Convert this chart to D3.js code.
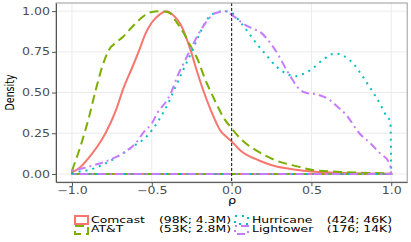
<!DOCTYPE html>
<html><head><meta charset="utf-8">
<script src="https://cdn.jsdelivr.net/npm/d3@7"></script>
<style>body{margin:0;background:#fff}svg{display:block}text{font-family:"DejaVu Sans",sans-serif}</style>
</head><body><div id="chart"></div>
<script>
// density curves, [rho, scaled density]
const comcast=[[-1,0.01],[-0.95,0.04],[-0.89,0.105],[-0.84,0.17],[-0.79,0.25],[-0.725,0.39],[-0.68,0.52],[-0.62,0.66],[-0.575,0.77],[-0.54,0.86],[-0.5,0.93],[-0.45,0.98],[-0.41,1],[-0.37,0.98],[-0.32,0.92],[-0.26,0.77],[-0.22,0.64],[-0.18,0.52],[-0.13,0.39],[-0.094,0.31],[-0.07,0.265],[-0.04,0.235],[0,0.2],[0.06,0.14],[0.12,0.105],[0.165,0.086],[0.27,0.049],[0.38,0.029],[0.52,0.013],[0.7,0.006],[0.85,0.003],[1,0.002]];
const att=[[-1,0.02],[-0.987,0.055],[-0.96,0.13],[-0.934,0.21],[-0.893,0.35],[-0.85,0.52],[-0.81,0.66],[-0.77,0.76],[-0.72,0.81],[-0.683,0.84],[-0.64,0.885],[-0.6,0.926],[-0.55,0.97],[-0.5,0.995],[-0.45,1],[-0.39,0.99],[-0.35,0.94],[-0.3,0.865],[-0.26,0.79],[-0.22,0.72],[-0.157,0.56],[-0.136,0.516],[-0.09,0.42],[-0.053,0.35],[0,0.28],[0.063,0.21],[0.167,0.137],[0.27,0.086],[0.417,0.045],[0.52,0.022],[0.66,0.014],[0.8,0.008],[1,0.003]];
const hurricane=[[-1,0],[-0.955,0.014],[-0.89,0.025],[-0.8,0.06],[-0.715,0.106],[-0.663,0.137],[-0.6,0.18],[-0.554,0.21],[-0.49,0.28],[-0.45,0.34],[-0.387,0.455],[-0.355,0.527],[-0.303,0.64],[-0.25,0.75],[-0.21,0.84],[-0.147,0.957],[-0.1,0.99],[-0.05,1],[-0.01,0.995],[0.052,0.936],[0.104,0.87],[0.157,0.8],[0.209,0.74],[0.27,0.67],[0.345,0.615],[0.397,0.6],[0.45,0.615],[0.497,0.64],[0.564,0.695],[0.648,0.74],[0.7,0.727],[0.769,0.67],[0.82,0.6],[0.867,0.53],[0.93,0.43],[0.97,0.356],[0.995,0.32],[1,0]];
const lightower=[[-1,0.02],[-0.93,0.035],[-0.86,0.055],[-0.79,0.076],[-0.683,0.127],[-0.6,0.19],[-0.548,0.26],[-0.5,0.31],[-0.46,0.383],[-0.418,0.434],[-0.376,0.506],[-0.345,0.588],[-0.29,0.7],[-0.24,0.8],[-0.157,0.936],[-0.105,0.987],[-0.03,1],[0,0.977],[0.03,0.957],[0.063,0.93],[0.125,0.895],[0.188,0.865],[0.23,0.82],[0.29,0.735],[0.345,0.637],[0.376,0.588],[0.407,0.54],[0.46,0.5],[0.543,0.486],[0.606,0.46],[0.658,0.418],[0.72,0.36],[0.8,0.25],[0.867,0.19],[0.93,0.127],[0.99,0.066],[1,0]];
const names=["Comcast","AT&T","Hurricane","Lightower"];
const counts=["(98K; 4.3M)","(53K; 2.8M)","(424; 46K)","(176; 14K)"];
const xTicks=[-1,-0.5,0,0.5,1], yTicks=[0,0.25,0.5,0.75,1];

(function(){
  const W=411,H=242,VS=0.77;
  const series=[comcast,att,hurricane,lightower];
  const colors=["#F8766D","#7CAE00","#00BFC4","#C77CFF"];
  const dashes=[null,"9,5","2,5","2,4,8,4"];
  const svg=d3.select("#chart").append("svg").attr("width",W).attr("height",H);
  const x=d3.scaleLinear().domain([-1.1,1.1]).range([56,407.2]);
  const y=d3.scaleLinear().domain([-0.05,1.05]).range([182.1,3]);
  const p={l:56,r:407.2,t:3,b:182.1};
  // grid
  svg.append("g").selectAll("line").data(yTicks).join("line")
    .attr("x1",p.l).attr("x2",p.r).attr("y1",d=>y(d)).attr("y2",d=>y(d)).attr("stroke","#ebebeb");
  svg.append("g").selectAll("line").data(xTicks).join("line")
    .attr("y1",p.t).attr("y2",p.b).attr("x1",d=>x(d)).attr("x2",d=>x(d)).attr("stroke","#ebebeb");
  // curves, closed down to zero like a density outline
  const area=d3.area().x(d=>x(d[0])).y0(y(0)).y1(d=>y(d[1])).curve(d3.curveMonotoneX);
  series.forEach((s,i)=>{
    svg.append("path").attr("d",area(s)).attr("fill","none").attr("stroke",colors[i])
      .attr("stroke-width",2).attr("stroke-dasharray",dashes[i]);
  });
  svg.append("line").attr("x1",x(0)).attr("x2",x(0)).attr("y1",p.t).attr("y2",p.b)
    .attr("stroke","#333").attr("stroke-width",1.2).attr("stroke-dasharray","3,2");
  svg.append("rect").attr("x",p.l).attr("y",p.t).attr("width",p.r-p.l).attr("height",p.b-p.t)
    .attr("fill","none").attr("stroke","#9a9a9a");
  // axes
  const ax=svg.append("g").attr("transform",`translate(0,${p.b})`)
    .call(d3.axisBottom(x).tickValues(xTicks).tickFormat(d3.format(".1f")).tickSize(4).tickSizeOuter(0).tickPadding(2));
  const ay=svg.append("g").attr("transform",`translate(${p.l},0)`)
    .call(d3.axisLeft(y).tickValues(yTicks).tickFormat(d3.format(".2f")).tickSize(4).tickSizeOuter(0).tickPadding(2));
  [ax,ay].forEach(a=>{
    a.select(".domain").attr("stroke","#555");
    a.selectAll(".tick line").attr("stroke","#555");
    a.selectAll("text").attr("fill","#4d4d4d").attr("font-size",12.6).attr("font-family","DejaVu Sans")
      .attr("transform",`scale(1,${VS})`);
  });
  const label=(tx,ty,str,size,anchor,rot)=>svg.append("text")
    .attr("transform",`translate(${tx},${ty}) scale(1,${VS})`+(rot?` rotate(${rot})`:""))
    .attr("font-size",size).attr("text-anchor",anchor).attr("fill","#000").text(str);
  label(232,203.5,"ρ",13,"middle");
  label(13.5,92.5,"Density",12.3,"middle",-90);
  // legend
  const kx=[75,235], tx=[91,252], ex=[231,392], ky=[216,226], by=[223,232.2];
  names.forEach((n,i)=>{
    const c=Math.floor(i/2), r=i%2;
    svg.append("rect").attr("x",kx[c]).attr("y",ky[r]).attr("width",13).attr("height",8)
      .attr("fill","none").attr("stroke",colors[i]).attr("stroke-width",2).attr("stroke-dasharray",dashes[i]);
    label(tx[c],by[r],n,12.4,"start");
    label(ex[c],by[r],counts[i],12.4,"end");
  });
})();
</script></body></html>
